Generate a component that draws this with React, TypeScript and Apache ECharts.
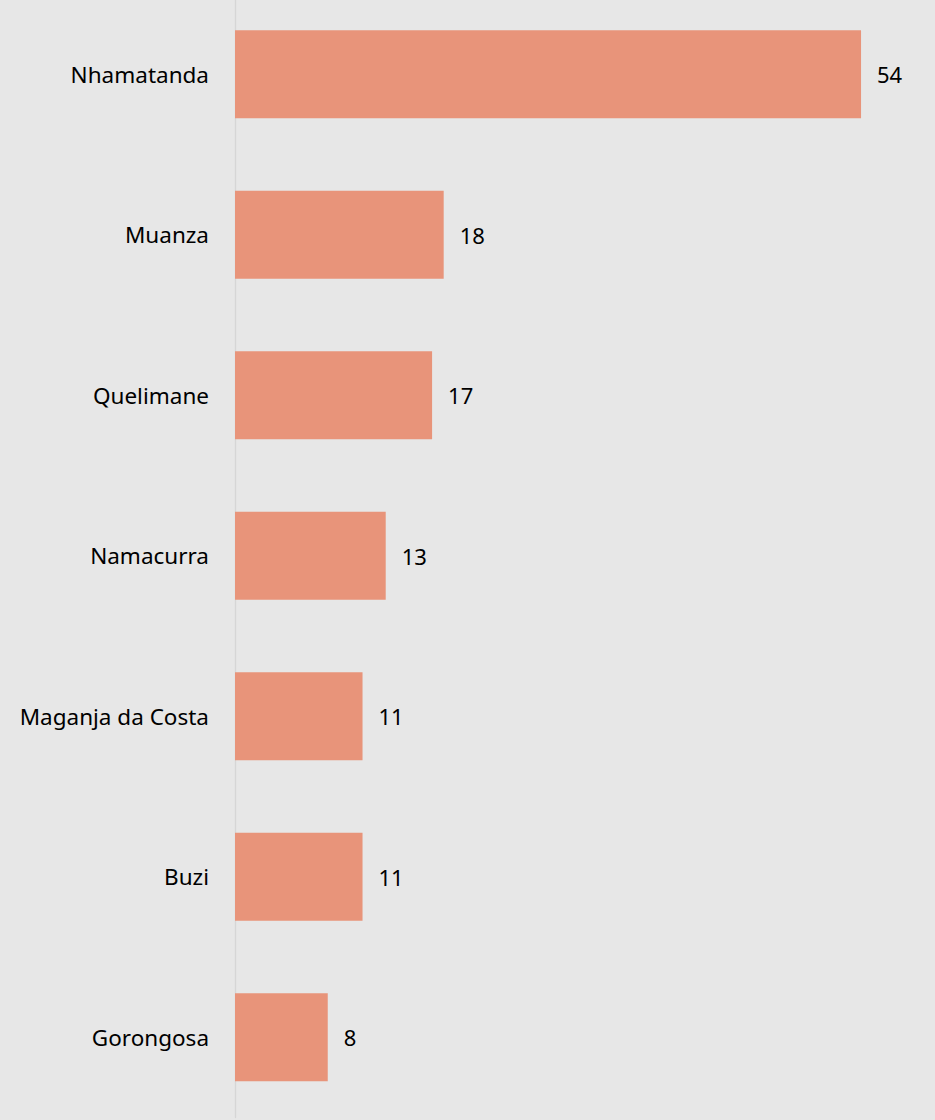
import React, { useEffect, useRef } from "react";
import * as echarts from "echarts";

const categories = [
  "Nhamatanda",
  "Muanza",
  "Quelimane",
  "Namacurra",
  "Maganja da Costa",
  "Buzi",
  "Gorongosa",
];
const values = [54, 18, 17, 13, 11, 11, 8];

export default function App() {
  const ref = useRef<HTMLDivElement>(null);
  useEffect(() => {
    if (!ref.current) return;
    const chart = echarts.init(ref.current, null, { renderer: "svg" });
    const font = "'Noto Sans', 'Open Sans', sans-serif";
    chart.setOption({
      animation: false,
      backgroundColor: "#e7e7e7",
      grid: { left: 235, width: 695.6, top: 0, height: 1123.5, containLabel: false },
      xAxis: {
        type: "value",
        min: 0,
        max: 60,
        show: false,
      },
      yAxis: {
        type: "category",
        inverse: true,
        data: categories,
        axisLine: { show: true, lineStyle: { color: "#d6d6d6", width: 1.3 } },
        axisTick: { show: false },
        splitLine: { show: false },
        axisLabel: {
          margin: 26,
          fontSize: 22.5,
          color: "#000000",
          fontFamily: font,
        },
      },
      series: [
        {
          type: "bar",
          data: values,
          barWidth: 88,
          itemStyle: { color: "#e8947a" },
          label: {
            show: true,
            position: "right",
            distance: 16,
            fontSize: 22,
            color: "#000000",
            fontFamily: font,
          },
        },
      ],
    });
    return () => chart.dispose();
  }, []);
  return (
    <div
      ref={ref}
      style={{ position: "fixed", left: 0, top: -6, width: 935, height: 1126 }}
    />
  );
}
